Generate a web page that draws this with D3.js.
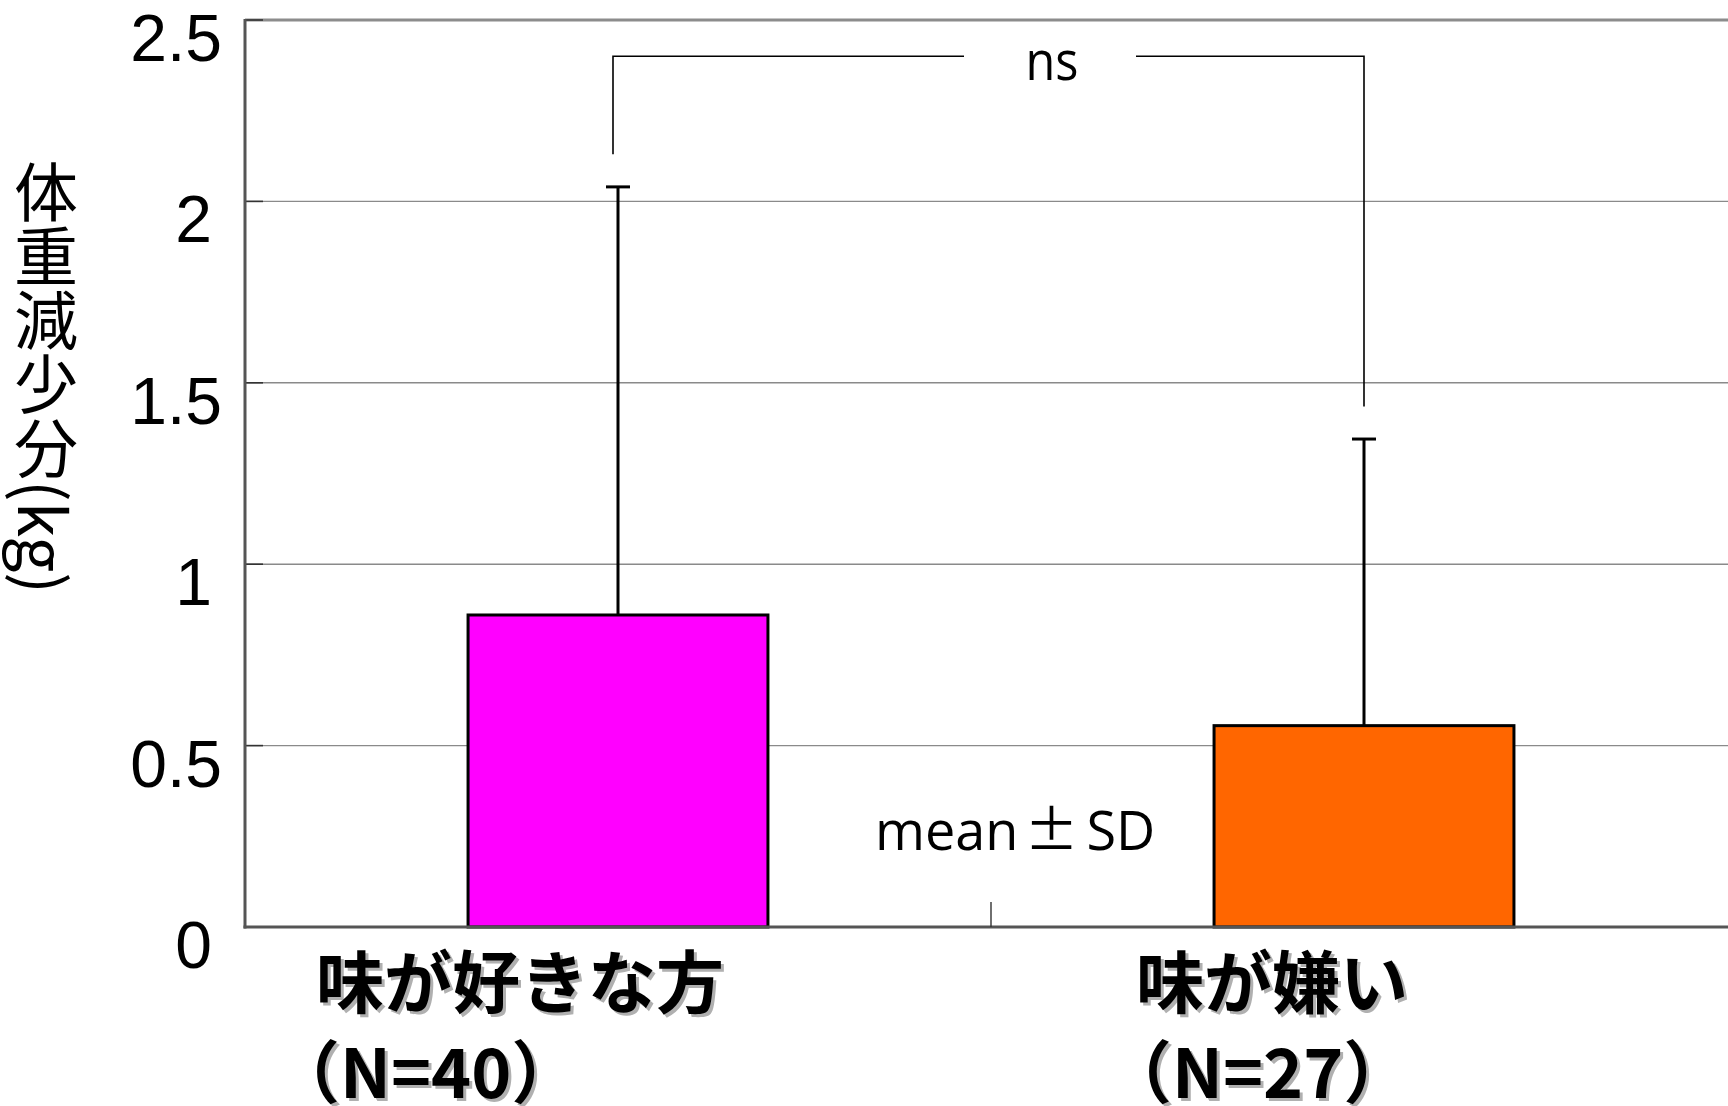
<!DOCTYPE html>
<html>
<head>
<meta charset="utf-8">
<script src="https://cdn.jsdelivr.net/npm/d3@7"></script>
<style>
  html, body { margin: 0; padding: 0; background: #fff; overflow: hidden; }
  svg { display: block; }
</style>
</head>
<body>
<svg id="chart" width="1728" height="1106"></svg>
<script>
// Weight loss by taste preference (mean ± SD)
const categories = ["味が好きな方", "味が嫌い"];
const sampleSizes = ["（N=40）", "（N=27）"];
const means = [0.86, 0.555];
const sds = [1.18, 0.79];
const yTicks = [0, 0.5, 1, 1.5, 2, 2.5];
const barColors = ["#FF00FF", "#FF6600"];
const yTitle = "体重減少分(kg)";
const sigLabel = "ns";
const noteLabel = ["mean", "±", "SD"];

const W = 1728, H = 1106;
const plot = { left: 245, right: 1737, top: 20, bottom: 927 };

const svg = d3.select("#chart");

const y = d3.scaleLinear().domain([0, 2.5]).range([plot.bottom, plot.top]);
const x = d3.scaleBand().domain(categories).range([plot.left, plot.right]).padding(0);
const barW = x.bandwidth() * 0.402;
const cx = c => x(c) + x.bandwidth() / 2;

// horizontal gridlines
svg.append("g").selectAll("line")
  .data(yTicks.filter(t => t > 0 && t < 2.5))
  .join("line")
  .attr("x1", plot.left).attr("x2", W)
  .attr("y1", d => y(d)).attr("y2", d => y(d))
  .attr("stroke", "#8a8a8a").attr("stroke-width", 1.4);

// top border line
svg.append("line")
  .attr("x1", plot.left).attr("x2", W)
  .attr("y1", y(2.5)).attr("y2", y(2.5))
  .attr("stroke", "#8c8c8c").attr("stroke-width", 3);

// short dark ticks inside the value axis
svg.append("g").selectAll("line")
  .data(yTicks.filter(t => t > 0))
  .join("line")
  .attr("x1", plot.left).attr("x2", plot.left + 18)
  .attr("y1", d => y(d)).attr("y2", d => y(d))
  .attr("stroke", "#333").attr("stroke-width", 1.6);

// tick labels
svg.append("g").selectAll("text")
  .data(yTicks)
  .join("text")
  .attr("x", d => Number.isInteger(d) ? 212 : 222)
  .attr("y", d => y(d) + 41)
  .attr("text-anchor", "end")
  .attr("font-family", "'Liberation Sans', Arial, sans-serif")
  .attr("font-size", 66)
  .attr("fill", "#000")
  .text(d => String(d));

// bars
svg.append("g").selectAll("rect")
  .data(categories)
  .join("rect")
  .attr("x", c => cx(c) - barW / 2)
  .attr("y", (c, i) => y(means[i]))
  .attr("width", barW)
  .attr("height", (c, i) => y(0) - y(means[i]))
  .attr("fill", (c, i) => barColors[i])
  .attr("stroke", "#000").attr("stroke-width", 3);

// error bars (upper side only)
const eb = svg.append("g");
eb.selectAll("line.stem")
  .data(categories)
  .join("line").attr("class", "stem")
  .attr("x1", c => cx(c)).attr("x2", c => cx(c))
  .attr("y1", (c, i) => y(means[i])).attr("y2", (c, i) => y(means[i] + sds[i]))
  .attr("stroke", "#000").attr("stroke-width", 3);
eb.selectAll("line.cap")
  .data(categories)
  .join("line").attr("class", "cap")
  .attr("x1", c => cx(c) - 12).attr("x2", c => cx(c) + 12)
  .attr("y1", (c, i) => y(means[i] + sds[i])).attr("y2", (c, i) => y(means[i] + sds[i]))
  .attr("stroke", "#000").attr("stroke-width", 3);

// axes lines
svg.append("line")
  .attr("x1", plot.left).attr("x2", plot.left)
  .attr("y1", plot.top - 1).attr("y2", plot.bottom + 1.5)
  .attr("stroke", "#555").attr("stroke-width", 3);
svg.append("line")
  .attr("x1", plot.left - 1.5).attr("x2", W)
  .attr("y1", plot.bottom).attr("y2", plot.bottom)
  .attr("stroke", "#555").attr("stroke-width", 3);

// category divider tick
svg.append("g").selectAll("line")
  .data(categories.slice(1))
  .join("line")
  .attr("x1", c => x(c)).attr("x2", c => x(c))
  .attr("y1", plot.bottom - 25).attr("y2", plot.bottom)
  .attr("stroke", "#333").attr("stroke-width", 1.4);

// significance bracket
const gap = 0.09, bracketTop = 2.4;
const x1 = cx(categories[0]) - 5, x2 = cx(categories[1]);
const midX = 1050, halfGap = 86;
const br = svg.append("g").attr("stroke", "#000").attr("stroke-width", 1.6).attr("fill", "none");
br.append("path").attr("d", d3.line()([
  [x1, y(means[0] + sds[0] + gap)], [x1, y(bracketTop)], [midX - halfGap, y(bracketTop)]
]));
br.append("path").attr("d", d3.line()([
  [midX + halfGap, y(bracketTop)], [x2, y(bracketTop)], [x2, y(means[1] + sds[1] + gap)]
]));
svg.append("text")
  .attr("transform", `translate(${midX + 2},80) scale(0.9,1)`)
  .attr("text-anchor", "middle")
  .attr("font-family", "'Open Sans', sans-serif")
  .attr("font-size", 54)
  .text(sigLabel);

// mean ± SD note
const note = svg.append("text")
  .attr("x", 875).attr("y", 850)
  .attr("font-family", "'Open Sans', sans-serif")
  .attr("font-size", 54);
note.append("tspan").text(noteLabel[0]);
note.append("tspan").attr("font-family", "'Noto Sans CJK JP', sans-serif").attr("dx", 6).text(noteLabel[1]);
note.append("tspan").attr("dx", 8).text(noteLabel[2]);

// y-axis title (vertical)
svg.append("text")
  .attr("x", 46).attr("y", 160)
  .attr("font-family", "'Noto Sans CJK JP', sans-serif")
  .attr("font-size", 64)
  .style("writing-mode", "vertical-rl")
  .text(yTitle);

// category labels with drop shadow
const labelPos = [
  [{ x: 316, y: 1008 }, { x: 272, y: 1098 }],
  [{ x: 1136, y: 1008 }, { x: 1104, y: 1098 }]
];
const lg = svg.append("g")
  .attr("font-family", "'Noto Sans CJK JP', sans-serif")
  .attr("font-weight", 700)
  .attr("font-size", 68);
categories.forEach((c, i) => {
  const lines = [c, sampleSizes[i]];
  lines.forEach((t, j) => {
    const p = labelPos[i][j];
    lg.append("text").attr("x", p.x + 3).attr("y", p.y + 3).attr("fill", "#b0b0b0").text(t);
    lg.append("text").attr("x", p.x).attr("y", p.y).attr("fill", "#000").text(t);
  });
});
</script>
</body>
</html>
